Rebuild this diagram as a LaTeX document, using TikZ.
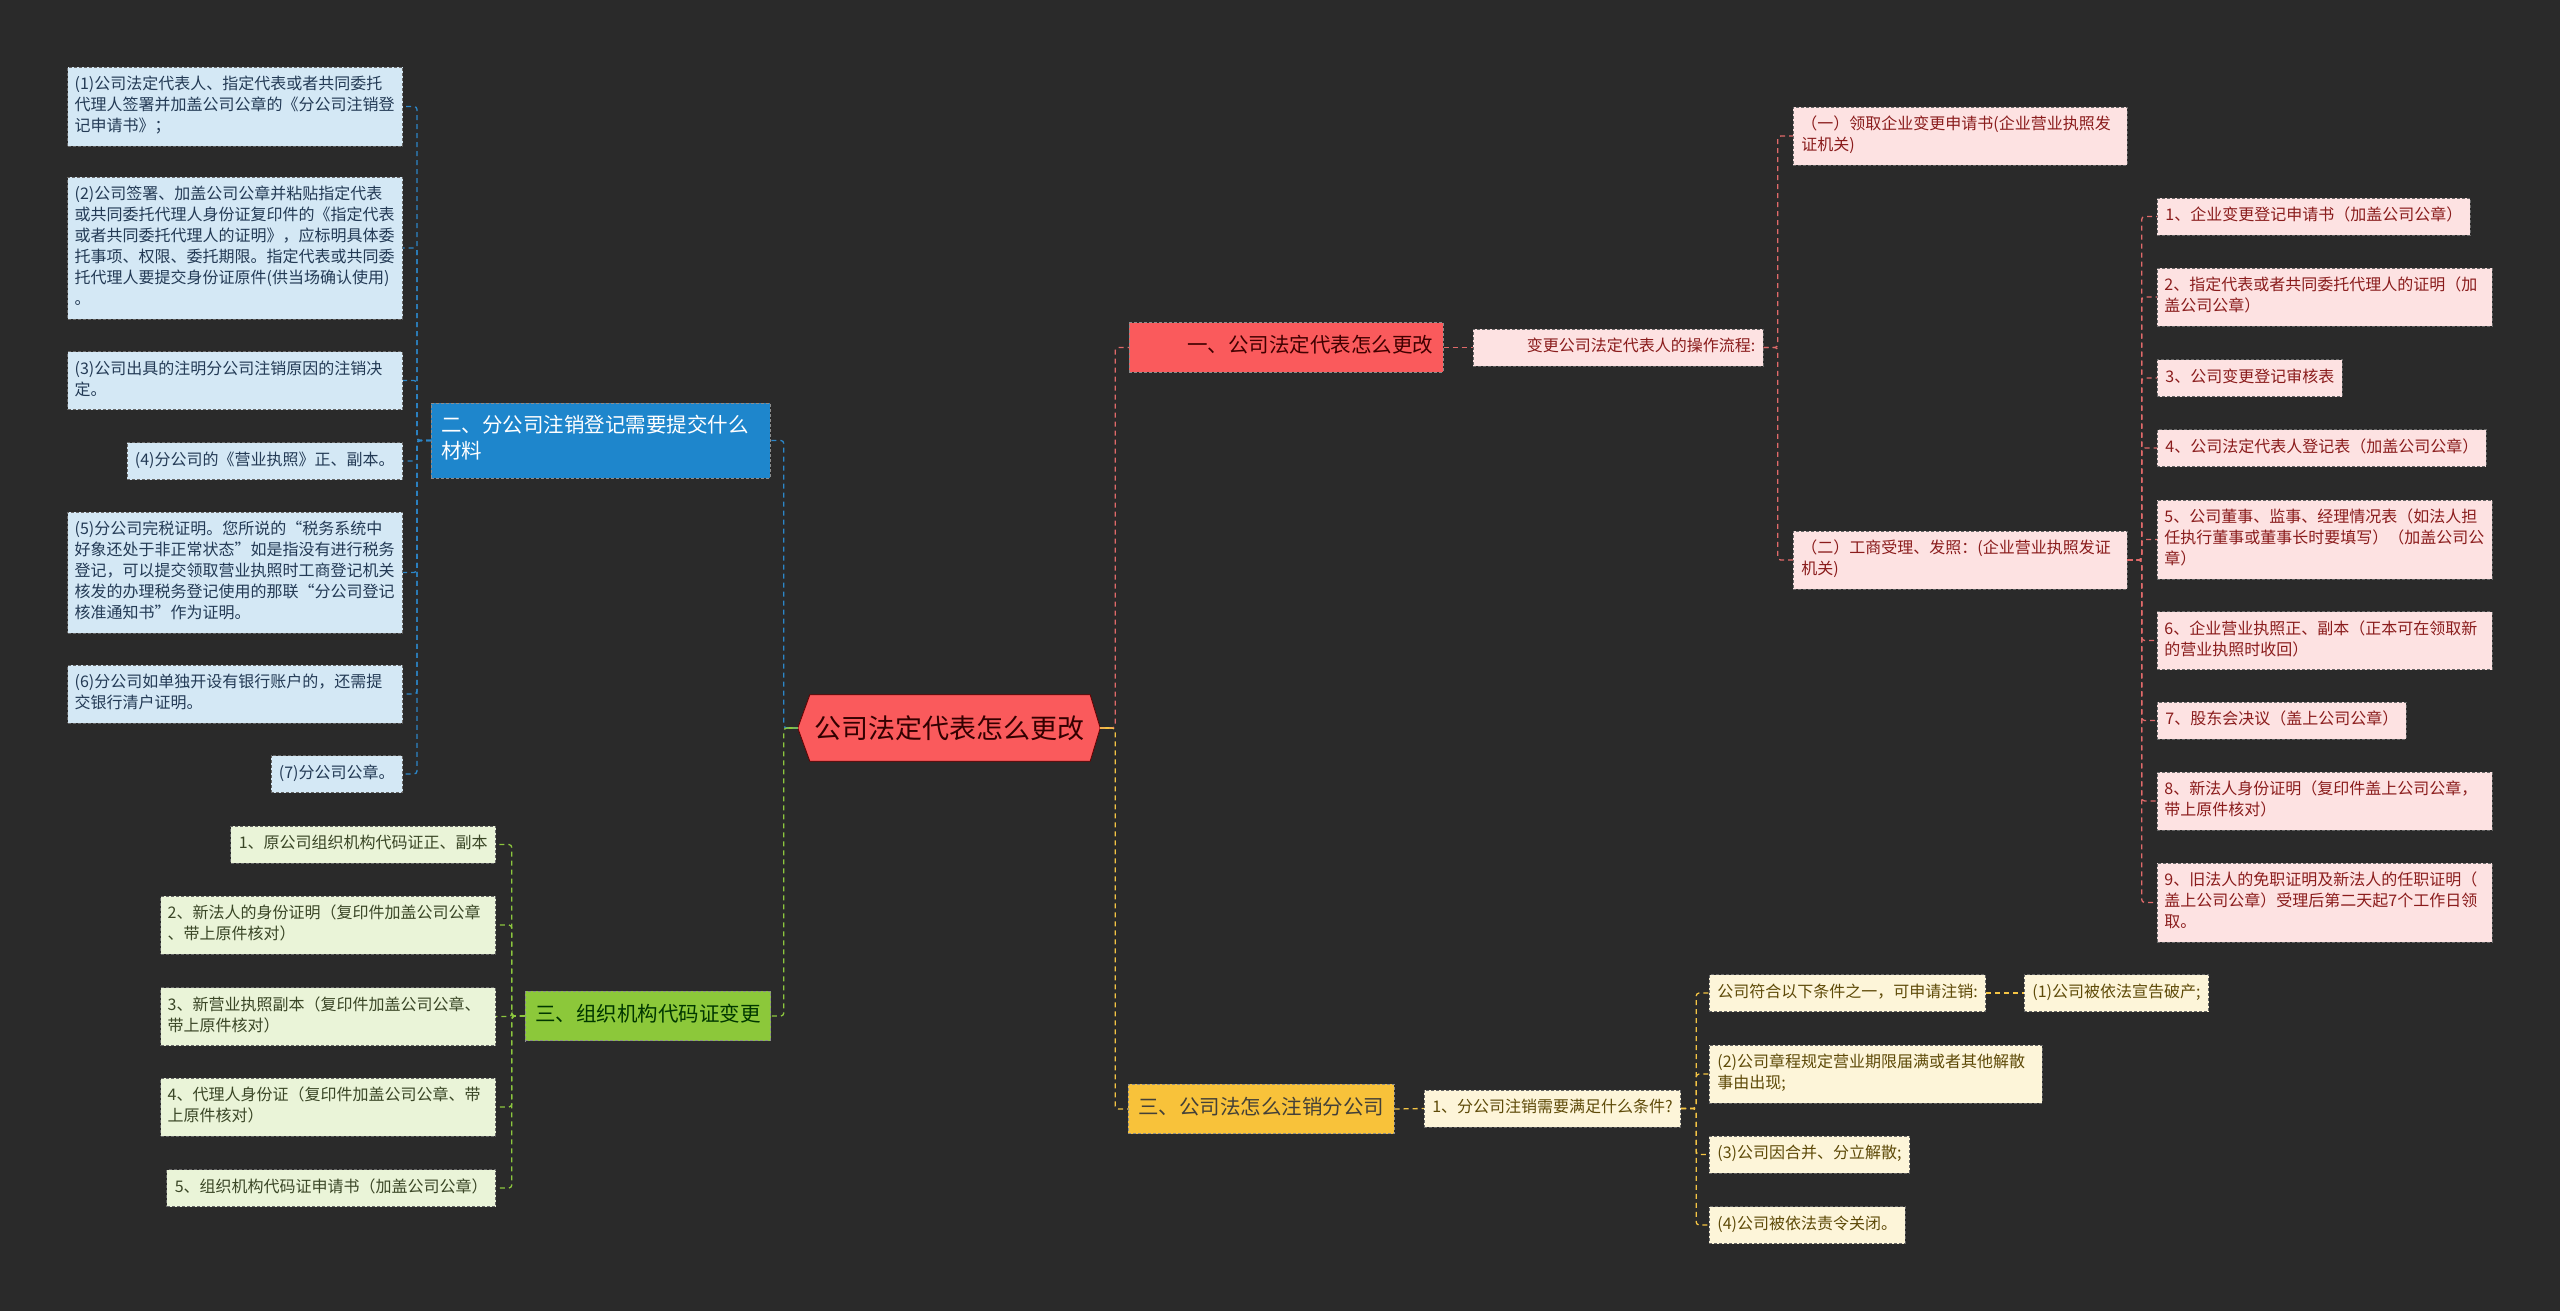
\documentclass[tikz,border=0pt]{standalone}
\usepackage{fontspec}
\setmainfont{Noto Sans CJK SC}

\definecolor{bgdark}{HTML}{2A2A2A}
\definecolor{rootred}{HTML}{FA5A5C}
\definecolor{cblue}{HTML}{2C86C8}
\definecolor{cgreen}{HTML}{8CC63E}
\definecolor{cred}{HTML}{E06A6A}
\definecolor{cyellow}{HTML}{F4C444}
\definecolor{hblue}{HTML}{1E86CC}
\definecolor{hgreen}{HTML}{8CC83A}
\definecolor{hred}{HTML}{FA5A5C}
\definecolor{hyellow}{HTML}{F8C23A}
\definecolor{lblue}{HTML}{D4E8F5}
\definecolor{lgreen}{HTML}{EAF4D8}
\definecolor{lred}{HTML}{FDE2E2}
\definecolor{lyellow}{HTML}{FDF5D9}
\definecolor{tblue}{HTML}{233A55}
\definecolor{tgreen}{HTML}{3A4626}
\definecolor{tred}{HTML}{8A1C1C}
\definecolor{tyellow}{HTML}{5E4A08}

\pgfdeclarelayer{back}
\pgfsetlayers{back,main}

\tikzset{
  box/.style={draw=black!60, dash pattern=on 3pt off 2pt, line width=0.7pt,
    inner xsep=8pt, inner ysep=8pt, align=left,
    font=\fontsize{16}{21}\selectfont,
    execute at begin node=\strut, execute at end node=\strut},
  bleaf/.style={box, fill=lblue, text=tblue},
  gleaf/.style={box, fill=lgreen, text=tgreen},
  rleaf/.style={box, fill=lred, text=tred},
  yleaf/.style={box, fill=lyellow, text=tyellow},
  wide/.style={text width=321pt, inner xsep=7pt},
  head/.style={draw=black!45, dash pattern=on 3pt off 2pt, line width=0.7pt,
    inner xsep=10pt, inner ysep=12.5pt,
    font=\fontsize{20.5}{24}\selectfont,
    execute at begin node=\strut, execute at end node=\strut},
  rootbox/.style={minimum width=302pt, minimum height=66pt, inner sep=0pt,
    font=\fontsize{27}{32}\selectfont, text=black!80!red},
  link/.style={line width=1.3pt, dash pattern=on 5pt off 4pt, rounded corners=3pt},
  lblue/.style={link, draw=cblue},
  lgreen/.style={link, draw=cgreen},
  lred/.style={link, draw=cred},
  lyellow/.style={link, draw=cyellow}
}

\begin{document}
\begin{tikzpicture}[x=1pt, y=-1pt]
\begin{pgfonlayer}{back}
\fill[bgdark] (0,0) rectangle (2560,1311);
\end{pgfonlayer}

% centre
\node[rootbox] (root) at (949,728) {公司法定代表怎么更改};
\begin{pgfonlayer}{back}
\filldraw[fill=rootred, draw=red!40!black, line width=0.8pt]
  (root.west) -- ([xshift=12pt]root.north west) -- ([xshift=-10pt]root.north east)
  -- (root.east) -- ([xshift=-10pt]root.south east) -- ([xshift=12pt]root.south west) -- cycle;
\end{pgfonlayer}

% blue branch
\node[head, fill=hblue, text=white, text width=319pt, align=left, anchor=west] (bh) at (431,440.5)
  {二、分公司注销登记需要提交什么\\材料};
\node[bleaf, wide, anchor=east] (b1) at (403,106.5) {(1)公司法定代表人、指定代表或者共同委托\\代理人签署并加盖公司公章的《分公司注销登\\记申请书》；};
\node[bleaf, wide, anchor=east] (b2) at (403,248) {(2)公司签署、加盖公司公章并粘贴指定代表\\或共同委托代理人身份证复印件的《指定代表\\或者共同委托代理人的证明》，应标明具体委\\托事项、权限、委托期限。指定代表或共同委\\托代理人要提交身份证原件(供当场确认使用)\\。};
\node[bleaf, wide, anchor=east] (b3) at (403,380.5) {(3)公司出具的注明分公司注销原因的注销决\\定。};
\node[bleaf, anchor=east] (b4) at (403,461) {(4)分公司的《营业执照》正、副本。};
\node[bleaf, wide, anchor=east] (b5) at (403,572.5) {(5)分公司完税证明。您所说的“税务系统中\\好象还处于非正常状态”如是指没有进行税务\\登记，可以提交领取营业执照时工商登记机关\\核发的办理税务登记使用的那联“分公司登记\\核准通知书”作为证明。};
\node[bleaf, wide, anchor=east] (b6) at (403,694) {(6)分公司如单独开设有银行账户的，还需提\\交银行清户证明。};
\node[bleaf, anchor=east] (b7) at (403,774) {(7)分公司公章。};

% green branch
\node[head, fill=hgreen, text=black!70!green!70!black, anchor=east] (gh) at (771,1016) {三、组织机构代码证变更};
\node[gleaf, anchor=east] (g1) at (496,844.5) {1、原公司组织机构代码证正、副本};
\node[gleaf, wide, anchor=east] (g2) at (496,925) {2、新法人的身份证明（复印件加盖公司公章\\、带上原件核对）};
\node[gleaf, wide, anchor=east] (g3) at (496,1016.5) {3、新营业执照副本（复印件加盖公司公章、\\带上原件核对）};
\node[gleaf, wide, anchor=east] (g4) at (496,1107) {4、代理人身份证（复印件加盖公司公章、带\\上原件核对）};
\node[gleaf, anchor=east] (g5) at (496,1188) {5、组织机构代码证申请书（加盖公司公章）};

% red branch
\node[head, fill=hred, text=red!25!black, text width=294pt, align=right, anchor=west] (rh) at (1129,347.5) {一、公司法定代表怎么更改};
\node[rleaf, text width=274pt, align=right, anchor=west] (rs) at (1473,347.5) {变更公司法定代表人的操作流程:};
\node[rleaf, text width=318pt, anchor=west] (s1) at (1793,136) {（一）领取企业变更申请书(企业营业执照发\\证机关)};
\node[rleaf, text width=318pt, anchor=west] (s2) at (1793,560) {（二）工商受理、发照：(企业营业执照发证\\机关)};
\node[rleaf, anchor=west] (i1) at (2157,216.5) {1、企业变更登记申请书（加盖公司公章）};
\node[rleaf, wide, anchor=west] (i2) at (2157,297) {2、指定代表或者共同委托代理人的证明（加\\盖公司公章）};
\node[rleaf, anchor=west] (i3) at (2157,378) {3、公司变更登记审核表};
\node[rleaf, anchor=west] (i4) at (2157,448) {4、公司法定代表人登记表（加盖公司公章）};
\node[rleaf, wide, anchor=west] (i5) at (2157,539.5) {5、公司董事、监事、经理情况表（如法人担\\任执行董事或董事长时要填写）（加盖公司公\\章）};
\node[rleaf, wide, anchor=west] (i6) at (2157,640.5) {6、企业营业执照正、副本（正本可在领取新\\的营业执照时收回）};
\node[rleaf, anchor=west] (i7) at (2157,720.5) {7、股东会决议（盖上公司公章）};
\node[rleaf, wide, anchor=west] (i8) at (2157,801) {8、新法人身份证明（复印件盖上公司公章，\\带上原件核对）};
\node[rleaf, wide, anchor=west] (i9) at (2157,902.5) {9、旧法人的免职证明及新法人的任职证明（\\盖上公司公章）受理后第二天起7个工作日领\\取。};

% yellow branch
\node[head, fill=hyellow, text=black!85!yellow, anchor=west] (yh) at (1128,1109) {三、公司法怎么注销分公司};
\node[yleaf, anchor=west] (ys) at (1424,1108.5) {1、分公司注销需要满足什么条件?};
\node[yleaf, anchor=west] (c0) at (1709,993) {公司符合以下条件之一，可申请注销:};
\node[yleaf, anchor=west] (c1) at (2024,993) {(1)公司被依法宣告破产;};
\node[yleaf, text width=317pt, anchor=west] (c2) at (1709,1074) {(2)公司章程规定营业期限届满或者其他解散\\事由出现;};
\node[yleaf, anchor=west] (c3) at (1709,1154.5) {(3)公司因合并、分立解散;};
\node[yleaf, anchor=west] (c4) at (1709,1225) {(4)公司被依法责令关闭。};

% links from the centre
\draw[cgreen, line width=1.3pt] (root.west) -- ++(-13,0);
\draw[cyellow, line width=1.3pt] (root.east) -- ++(14,0);
\draw[lblue] (root.west) -- ++(-14,0) |- (bh.east);
\draw[lgreen] (root.west) -- ++(-14,0) |- (gh.east);
\draw[lred] (root.east) -- ++(15,0) |- (rh.west);
\draw[lyellow] (root.east) -- ++(15,0) |- (yh.west);

\draw[lblue] (bh.west) -- ++(-14,0) |- (b1.east);
\draw[lblue] (bh.west) -- ++(-14,0) |- (b2.east);
\draw[lblue] (bh.west) -- ++(-14,0) |- (b3.east);
\draw[lblue] (bh.west) -- ++(-14,0) |- (b4.east);
\draw[lblue] (bh.west) -- ++(-14,0) |- (b5.east);
\draw[lblue] (bh.west) -- ++(-14,0) |- (b6.east);
\draw[lblue] (bh.west) -- ++(-14,0) |- (b7.east);

\draw[lgreen] (gh.west) -- ++(-13,0) |- (g1.east);
\draw[lgreen] (gh.west) -- ++(-13,0) |- (g2.east);
\draw[lgreen] (gh.west) -- ++(-13,0) |- (g3.east);
\draw[lgreen] (gh.west) -- ++(-13,0) |- (g4.east);
\draw[lgreen] (gh.west) -- ++(-13,0) |- (g5.east);

\draw[lred] (rh.east) -- (rs.west);
\draw[lred] (rs.east) -- ++(14,0) |- (s1.west);
\draw[lred] (rs.east) -- ++(14,0) |- (s2.west);
\draw[lred] (s2.east) -- ++(14,0) |- (i1.west);
\draw[lred] (s2.east) -- ++(14,0) |- (i2.west);
\draw[lred] (s2.east) -- ++(14,0) |- (i3.west);
\draw[lred] (s2.east) -- ++(14,0) |- (i4.west);
\draw[lred] (s2.east) -- ++(14,0) |- (i5.west);
\draw[lred] (s2.east) -- ++(14,0) |- (i6.west);
\draw[lred] (s2.east) -- ++(14,0) |- (i7.west);
\draw[lred] (s2.east) -- ++(14,0) |- (i8.west);
\draw[lred] (s2.east) -- ++(14,0) |- (i9.west);

\draw[lyellow] (yh.east) -- (ys.west);
\draw[lyellow] (ys.east) -- ++(15,0) |- (c0.west);
\draw[lyellow] (ys.east) -- ++(15,0) |- (c2.west);
\draw[lyellow] (ys.east) -- ++(15,0) |- (c3.west);
\draw[lyellow] (ys.east) -- ++(15,0) |- (c4.west);
\draw[lyellow] (c0.east) -- (c1.west);
\end{tikzpicture}
\end{document}
